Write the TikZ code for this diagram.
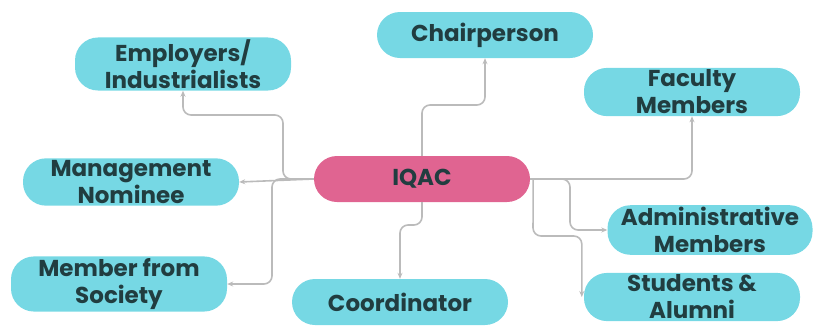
\documentclass[tikz,border=0pt]{standalone}
\usepackage{fontspec}
\setmainfont{Poppins}
\usetikzlibrary{arrows.meta}
\definecolor{boxcyan}{HTML}{76D8E4}
\definecolor{boxpink}{HTML}{E06491}
\definecolor{boxtext}{HTML}{213D40}
\definecolor{linkgray}{HTML}{BBBBBB}
\tikzset{
	member/.style={fill=boxcyan, rounded corners=23pt, minimum width=216pt, minimum height=46pt, inner ysep=2pt, align=center, text=boxtext, font=\fontsize{23}{27}\selectfont\bfseries},
	hub/.style={member, fill=boxpink},
	link/.style={line width=1.6pt, color=linkgray, rounded corners=8pt, -{Stealth[length=6pt, width=5pt]}}
}

\begin{document}
\begin{tikzpicture}[x=1pt, y=-1pt]
			%%%%% START %%%%%
			\useasboundingbox (0, 0) rectangle (815, 327);
			
			\node[hub] (iqac) at (422, 179) {IQAC};
			
			\node[member] (chair) at (485, 35) {Chairperson};
			\node[member] (employers) at (183, 64) {Employers/\\Industrialists};
			\node[member] (faculty) at (692, 92) {Faculty\\Members};
			\node[member] (management) at (131, 182) {Management\\Nominee};
			\node[member, minimum width=205pt] (admin) at (710, 230) {Administrative\\Members};
			\node[member] (society) at (119, 284) {Member from\\Society};
			\node[member] (coordinator) at (400, 302) {Coordinator};
			\node[member] (students) at (692, 297) {Students \&\\Alumni};
			
			% upper and lower branches
			\draw[link] (iqac.north) -- (iqac.north |- 0, 105) -| (chair.south);
			\draw[link] (iqac.south) -- (iqac.south |- 0, 225) -| (coordinator.north);
			
			% left branches
			\draw[link] (iqac.west) -- (283, 179) -- (283, 115) -| (employers.south);
			\draw[link] (iqac.west) -- (management.east);
			\draw[link] (iqac.west) -- (272, 179) |- (society.east);
			
			% right branches
			\draw[link] (iqac.east) -| (faculty.south);
			\draw[link] (iqac.east) -- (570, 179) |- (admin.west);
			\coordinate (studin) at ([xshift=-2pt]students.west);
			\draw[link] ([xshift=3pt]iqac.east) -- (533, 236) -- (studin |- 0, 236) -- (studin);
			
			%%%%% END %%%%%
\end{tikzpicture}
\end{document}
